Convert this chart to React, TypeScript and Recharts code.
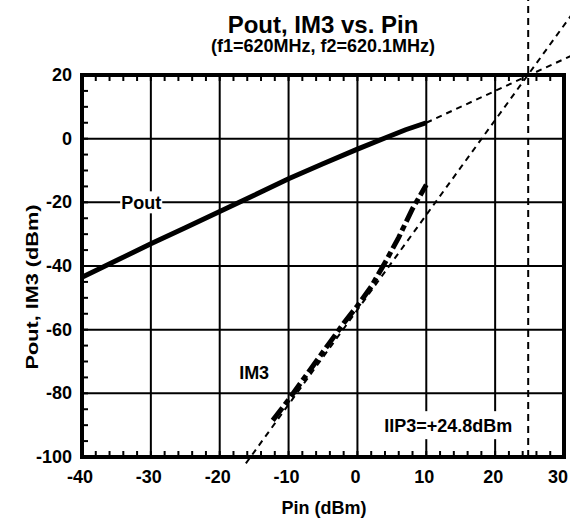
import { Line, LineChart, ReferenceArea, ReferenceDot, ReferenceLine, XAxis, YAxis } from "recharts"

// Pout, thick solid trace
const poutPin = [-40, -35, -30, -25, -20, -15, -10, -5, 0, 4, 7, 10]
const poutDbm = [-43.5, -38.3, -33, -28, -22.9, -17.8, -12.6, -7.9, -3.3, 0.2, 2.8, 5.0]

// IM3, thick dashed trace
const im3Pin = [-12.3, -10, -8, -6, -4, -2, 0, 2, 4, 6, 8, 10]
const im3Dbm = [-88.5, -82, -76, -70, -64, -58, -52.5, -46.5, -39, -31, -22, -14.5]

// extrapolated slopes (1:1 and 3:1) and the intercept
const poutFitPin = [10, 31]
const poutFitDbm = [5, 26]
const im3FitPin = [-16.2, 31]
const im3FitDbm = [-102, 38.6]
const iip3 = 24.8
const iip3Top = 43.6

const xLabels = [-40, -30, -20, -10, 0, 10, 20, 30]
const yLabels = [20, 0, -20, -40, -60, -80, -100]
const xMinor = Array.from({ length: 36 }, (_, i) => -40 + i * 2)
const yMinor = Array.from({ length: 25 }, (_, i) => -100 + i * 5)

const poutData = poutPin.map((pin, i) => ({ pin, dbm: poutDbm[i] }))
const im3Data = im3Pin.map((pin, i) => ({ pin, dbm: im3Dbm[i] }))

const W = 570
const H = 525
const PLOT_H = 382
const font = "'Liberation Sans', Arial, Helvetica, sans-serif"

function XTick(props: any) {
  const { x, y, payload } = props
  const v = payload.value
  const last = v === xLabels[xLabels.length - 1]
  return (
    <g>
      <line x1={x} y1={y} x2={x} y2={y - 6} stroke="#000" strokeWidth={2} />
      <line x1={x} y1={y - PLOT_H} x2={x} y2={y - PLOT_H + 6} stroke="#000" strokeWidth={2} />
      {xLabels.includes(v) && (
        <text
          x={last ? W - 2 : x - 2}
          y={y + 26}
          textAnchor={last ? "end" : "middle"}
          fontFamily={font}
          fontWeight="bold"
          fontSize={18}
          fill="#000"
        >
          {v}
        </text>
      )}
    </g>
  )
}

function YTick(props: any) {
  const { x, y, payload } = props
  const v = payload.value
  return (
    <g>
      <line x1={x} y1={y} x2={x + 6} y2={y} stroke="#000" strokeWidth={2} />
      {yLabels.includes(v) && (
        <text x={x - 10} y={y + 6} textAnchor="end" fontFamily={font} fontWeight="bold" fontSize={18} fill="#000">
          {v}
        </text>
      )}
    </g>
  )
}

function BoxLabel(props: any) {
  const { viewBox, text, w, h } = props
  const { x, y } = viewBox
  return (
    <g>
      <rect x={x - w / 2} y={y - h / 2} width={w} height={h} fill="#fff" />
      <text x={x} y={y + 6.5} textAnchor="middle" fontFamily={font} fontWeight="bold" fontSize={18} fill="#000">
        {text}
      </text>
    </g>
  )
}

export default function App() {
  return (
    <div style={{ position: "absolute", left: 0, top: 0, width: W, height: H, background: "#fff" }}>
      <LineChart width={W} height={H} margin={{ top: 75, right: 6, left: 0, bottom: 0 }}>
        <XAxis
          type="number"
          dataKey="pin"
          domain={[-40, 30]}
          ticks={xMinor}
          interval={0}
          height={68}
          tickSize={0}
          tickMargin={0}
          tickLine={false}
          axisLine={false}
          tick={<XTick />}
        />
        <YAxis
          type="number"
          dataKey="dbm"
          domain={[-100, 20]}
          ticks={yMinor}
          interval={0}
          width={82}
          tickSize={0}
          tickMargin={0}
          tickLine={false}
          axisLine={false}
          tick={<YTick />}
        />
        {xLabels.slice(1, -1).map((v) => (
          <ReferenceLine key={"gx" + v} x={v} stroke="#000" strokeWidth={2} />
        ))}
        {yLabels.slice(1, -1).map((v) => (
          <ReferenceLine key={"gy" + v} y={v} stroke="#000" strokeWidth={2} />
        ))}
        <ReferenceArea x1={-40} x2={30} y1={-100} y2={20} fill="none" stroke="#000" strokeWidth={4} ifOverflow="visible" />
        <ReferenceDot x={-31.4} y={-20} r={0} stroke="none" label={<BoxLabel text="Pout" w={42} h={22} />} />
        <ReferenceDot x={13.2} y={-90} r={0} stroke="none" label={<BoxLabel text="IIP3=+24.8dBm" w={138} h={28} />} />
        <ReferenceDot x={-15} y={-73.6} r={0} stroke="none" label={<BoxLabel text="IM3" w={0} h={0} />} />
        <ReferenceLine
          segment={[{ x: iip3, y: -100 }, { x: iip3, y: iip3Top }]}
          stroke="#000"
          strokeWidth={2}
          strokeDasharray="7 5"
          ifOverflow="visible"
        />
        <ReferenceLine
          segment={[{ x: poutFitPin[0], y: poutFitDbm[0] }, { x: poutFitPin[1], y: poutFitDbm[1] }]}
          stroke="#000"
          strokeWidth={2}
          strokeDasharray="6 5"
          ifOverflow="visible"
        />
        <ReferenceLine
          segment={[{ x: im3FitPin[0], y: im3FitDbm[0] }, { x: im3FitPin[1], y: im3FitDbm[1] }]}
          stroke="#000"
          strokeWidth={2}
          strokeDasharray="6 5"
          ifOverflow="visible"
        />
        <Line data={poutData} dataKey="dbm" type="linear" stroke="#000" strokeWidth={5} dot={false} isAnimationActive={false} />
        <Line
          data={im3Data}
          dataKey="dbm"
          type="linear"
          stroke="#000"
          strokeWidth={5}
          strokeDasharray="16 4 6 4"
          dot={false}
          isAnimationActive={false}
        />
      </LineChart>
      <svg width={W} height={H} style={{ position: "absolute", left: 0, top: 0, pointerEvents: "none" }}>
        <g fontFamily={font} fontWeight="bold" fill="#000" textAnchor="middle">
          <text x={323} y={33} fontSize={24}>Pout, IM3 vs. Pin</text>
          <text x={323} y={52} fontSize={18}>(f1=620MHz, f2=620.1MHz)</text>
          <text x={324} y={514} fontSize={18}>Pin (dBm)</text>
          <text transform="translate(38 287) rotate(-90)" fontSize={17} textLength={165} lengthAdjust="spacingAndGlyphs">
            Pout, IM3 (dBm)
          </text>
        </g>
      </svg>
    </div>
  )
}
